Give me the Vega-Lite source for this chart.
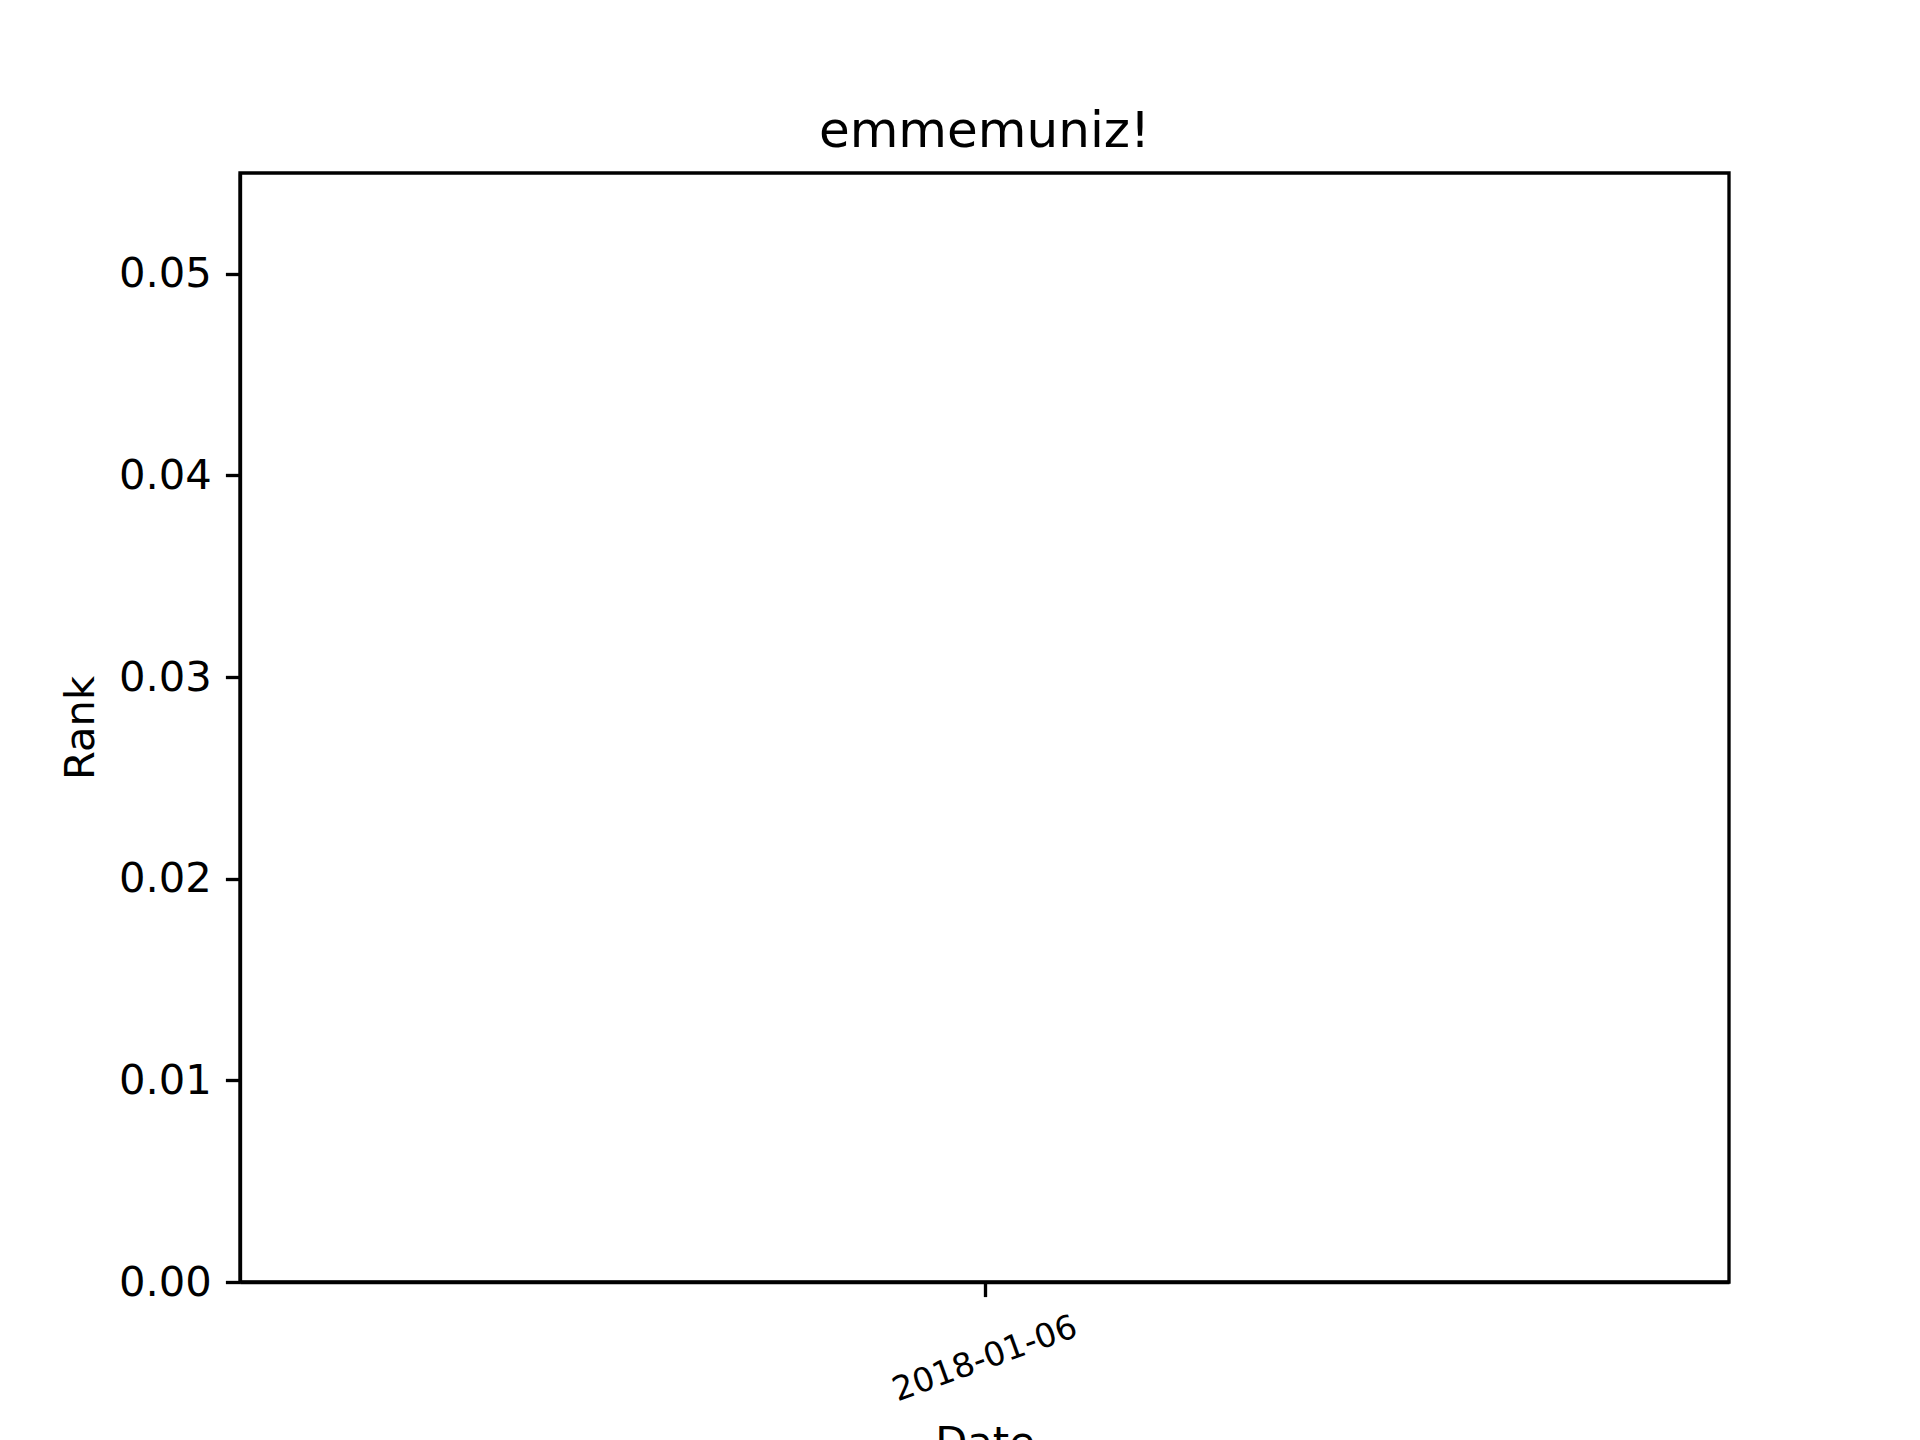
{
  "$schema": "https://vega.github.io/schema/vega-lite/v6.json",
  "autosize": {"type": "none"},
  "width": 1489,
  "height": 1109,
  "padding": {"left": 240, "top": 173, "right": 191, "bottom": 158},
  "background": "white",
  "config": {
    "font": "DejaVu Sans",
    "view": {"stroke": "black", "strokeWidth": 3.33},
    "axis": {
      "grid": false,
      "domainColor": "black",
      "domainWidth": 3.33,
      "tickColor": "black",
      "tickWidth": 3.33,
      "tickSize": 14.6,
      "labelColor": "black",
      "titleColor": "black",
      "labelFont": "DejaVu Sans",
      "titleFont": "DejaVu Sans",
      "titleFontWeight": "normal",
      "labelFontWeight": "normal",
      "labelLimit": 0
    }
  },
  "title": {
    "text": "emmemuniz!",
    "font": "DejaVu Sans",
    "fontSize": 50,
    "fontWeight": "normal",
    "color": "black",
    "anchor": "middle",
    "baseline": "alphabetic",
    "offset": -24
  },
  "data": {"values": [{"Date": "2018-01-06", "Rank": 0}]},
  "mark": {"type": "line", "color": "#1f77b4", "strokeWidth": 6.25},
  "encoding": {
    "x": {
      "field": "Date",
      "type": "ordinal",
      "scale": {"type": "point"},
      "axis": {
        "title": "Date",
        "labelAngle": -20,
        "labelAlign": "center",
        "labelBaseline": "middle",
        "labelPadding": 62,
        "labelLimit": 0,
        "labelFontSize": 33.3,
        "titleFontSize": 41.7,
        "titleBaseline": "alphabetic",
        "titleAlign": "center",
        "titleY": 173
      }
    },
    "y": {
      "field": "Rank",
      "type": "quantitative",
      "scale": {"domain": [0, 0.055], "nice": false, "zero": false},
      "axis": {
        "title": "Rank",
        "values": [0, 0.01, 0.02, 0.03, 0.04, 0.05],
        "format": ".2f",
        "labelFontSize": 41.7,
        "labelPadding": 14,
        "titleFontSize": 41.7,
        "titleAngle": -90,
        "titleBaseline": "alphabetic",
        "titleAlign": "center",
        "titleX": -147,
        "titleY": 554.5
      }
    }
  }
}
